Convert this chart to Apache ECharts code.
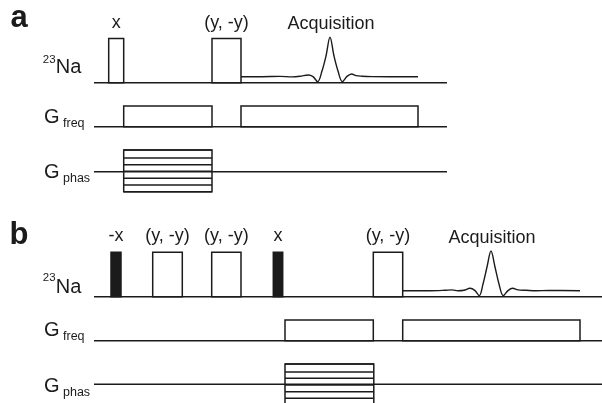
<!DOCTYPE html>
<html>
<head>
<meta charset="utf-8">
<script src="https://cdn.jsdelivr.net/npm/echarts@6/dist/echarts.min.js"></script>
<style>
  html, body { margin: 0; background: #fff; }
  #chart { width: 602px; height: 403px; }
</style>
</head>
<body>
<div id="chart"></div>
<script>
// Timings and levels (figure units, y grows downward).

// panel a
const aTrackStart = 94;
const aTrackEnd = 447;
const aLevels = [82.7, 126.7, 171.7]; // 23Na, G freq, G phas baselines
const aRfStart = [108.7, 212];
const aRfEnd = [123.7, 241];
const aRfTop = 38.5;
const aRfLabels = ["x", "(y, -y)"];
const aRfSolid = [false, false];
const aFreqStart = [123.7, 241];
const aFreqEnd = [212, 418];
const aFreqTop = 106;
const aPhaseSpan = [123.7, 212];
const aPhaseSteps = [150, 158, 164.7, 171.3, 178.3, 185, 191.7];
const aEcho = [
  [241, 76.7], [262, 76.7], [280, 76.4], [292, 76.9], [300, 76.3], [308.3, 75],
  [313, 76.6], [317.7, 81.7], [322, 71], [326, 56], [330, 37.3], [334, 56],
  [338, 71], [342.3, 81.7], [347, 76.4], [351.7, 74], [356, 75.6], [362, 76.2],
  [372, 76.6], [390, 76.7], [418, 76.7]
];

// panel b
const bTrackStart = 94;
const bTrackEnd = 602;
const bLevels = [296.7, 340.7, 384.3];
const bRfStart = [111, 152.7, 211.7, 273.3, 373.3];
const bRfEnd = [121, 182.3, 241, 282.7, 402.7];
const bRfTop = 252.3;
const bRfLabels = ["-x", "(y, -y)", "(y, -y)", "x", "(y, -y)"];
const bRfSolid = [true, false, false, true, false];
const bFreqStart = [285, 402.7];
const bFreqEnd = [373.3, 580];
const bFreqTop = 320;
const bPhaseSpan = [285, 373.8];
const bPhaseSteps = [364, 372, 378.3, 385, 391.7, 398.3, 405];
const bEcho = [
  [402.7, 290.7], [430, 290.7], [445, 290.3], [452, 289.9], [458, 290.8],
  [464, 290.3], [470, 288.3], [475, 290.6], [479.3, 295.7], [483, 284],
  [487, 267], [491, 251], [495, 267], [499, 284], [503.3, 295.7], [508, 290.6],
  [512.7, 288.3], [518, 289.9], [526, 290.3], [536, 290.8], [548, 290.5], [580, 290.7]
];

const ink = "#1b1b1b";
const family = '"Liberation Sans", Arial, sans-serif';
const font = (size, weight) => `${weight || "normal"} ${size}px ${family}`;
const mid = 0.35; // canvas 'middle' sits about this far (em) above the baseline

// build series data from the arrays above
const rfLabels = aRfLabels.concat(bRfLabels);
const rfData = [];
aRfStart.forEach((s, i) => rfData.push([s, aRfEnd[i], aLevels[0], aRfTop, aRfSolid[i] ? 1 : 0, i]));
bRfStart.forEach((s, i) =>
  rfData.push([s, bRfEnd[i], bLevels[0], bRfTop, bRfSolid[i] ? 1 : 0, aRfStart.length + i])
);

const boxData = [];
aFreqStart.forEach((s, i) => boxData.push([s, aFreqEnd[i], aLevels[1], aFreqTop]));
bFreqStart.forEach((s, i) => boxData.push([s, bFreqEnd[i], bLevels[1], bFreqTop]));
boxData.push([aPhaseSpan[0], aPhaseSpan[1], aPhaseSteps[aPhaseSteps.length - 1], aPhaseSteps[0]]);
boxData.push([bPhaseSpan[0], bPhaseSpan[1], bPhaseSteps[bPhaseSteps.length - 1], bPhaseSteps[0]]);

const lineData = [];
aLevels.forEach((y) => lineData.push([aTrackStart, aTrackEnd, y]));
bLevels.forEach((y) => lineData.push([bTrackStart, bTrackEnd, y]));
aPhaseSteps.forEach((y) => lineData.push([aPhaseSpan[0], aPhaseSpan[1], y]));
bPhaseSteps.forEach((y) => lineData.push([bPhaseSpan[0], bPhaseSpan[1], y]));

const peakOf = (echo) => echo.reduce((m, p) => (p[1] < m[1] ? p : m));
const acqData = [peakOf(aEcho), peakOf(bEcho)];

function rectOf(api, solid) {
  const p0 = api.coord([api.value(0), api.value(2)]);
  const p1 = api.coord([api.value(1), api.value(3)]);
  return {
    type: "rect",
    shape: { x: p0[0], y: p1[1], width: p1[0] - p0[0], height: p0[1] - p1[1] },
    style: { fill: solid ? ink : "none", stroke: ink, lineWidth: 1.5 },
  };
}

function textOf(text, x, baseline, size, weight, align) {
  return {
    type: "text",
    x: x,
    y: baseline - mid * size,
    style: {
      text: text,
      font: font(size, weight),
      fill: ink,
      align: align || "left",
      verticalAlign: "middle",
    },
  };
}

// channel names and panel letters
const tags = [
  textOf("a", 10.5, 29.7, 31, "bold"),
  textOf("23", 42.8, 64.3, 11.5),
  textOf("Na", 55.8, 74, 20),
  textOf("G", 44, 124.3, 20),
  textOf("freq", 63, 127.8, 12.5),
  textOf("G", 44, 179, 20),
  textOf("phas", 63, 182.5, 12.5),
  textOf("b", 9.5, 246.5, 31, "bold"),
  textOf("23", 42.8, 281.7, 11.5),
  textOf("Na", 55.8, 294, 20),
  textOf("G", 44, 337, 20),
  textOf("freq", 63, 341, 12.5),
  textOf("G", 44, 393.3, 20),
  textOf("phas", 63, 397.3, 12.5),
];

const chart = echarts.init(document.getElementById("chart"));
chart.setOption({
  animation: false,
  grid: { left: 0, right: 0, top: 0, bottom: 0 },
  xAxis: { type: "value", min: 0, max: 602, show: false },
  yAxis: { type: "value", min: 0, max: 403, inverse: true, show: false },
  graphic: tags,
  series: [
    {
      type: "custom",
      name: "tracks",
      data: lineData,
      renderItem: (params, api) => {
        const p0 = api.coord([api.value(0), api.value(2)]);
        const p1 = api.coord([api.value(1), api.value(2)]);
        return {
          type: "line",
          shape: { x1: p0[0], y1: p0[1], x2: p1[0], y2: p1[1] },
          style: { stroke: ink, lineWidth: 1.4 },
        };
      },
    },
    {
      type: "custom",
      name: "gradients",
      data: boxData,
      renderItem: (params, api) => rectOf(api, false),
    },
    {
      type: "custom",
      name: "rf pulses",
      data: rfData,
      renderItem: (params, api) => {
        const rect = rectOf(api, api.value(4) === 1);
        const cx = rect.shape.x + rect.shape.width / 2;
        return {
          type: "group",
          children: [rect, textOf(rfLabels[api.value(5)], cx, rect.shape.y - 9.5, 18, "normal", "center")],
        };
      },
    },
    {
      type: "line",
      name: "echo a",
      data: aEcho,
      smooth: 0.35,
      symbol: "none",
      lineStyle: { color: ink, width: 1.4 },
    },
    {
      type: "line",
      name: "echo b",
      data: bEcho,
      smooth: 0.35,
      symbol: "none",
      lineStyle: { color: ink, width: 1.4 },
    },
    {
      type: "custom",
      name: "acquisition",
      data: acqData,
      renderItem: (params, api) => {
        const p = api.coord([api.value(0), api.value(1)]);
        return textOf("Acquisition", p[0] + 1, p[1] - 6.5, 18, "normal", "center");
      },
    },
  ],
});
</script>
</body>
</html>
